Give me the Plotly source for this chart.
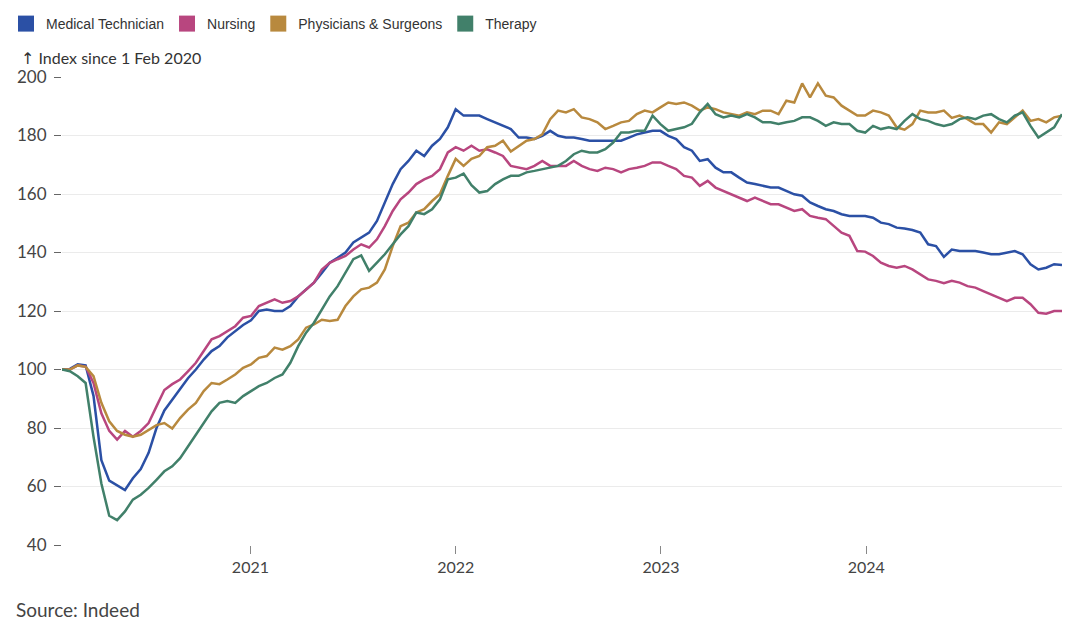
import pandas as pd
import plotly.graph_objects as go

# Biweekly observation dates (index, 1 Feb 2020 = 100)
dates = pd.date_range(start="2020-02-01", periods=128, freq="14D")

series_names = ["Medical Technician", "Nursing", "Physicians & Surgeons", "Therapy"]
series_colors = ["#2B50A5", "#B8467F", "#B8893E", "#41806A"]

medical_technician = [
    100.0, 100.2, 101.8, 101.4, 91.0, 69.0, 62.0, 60.5, 58.8, 62.8,
    66.0, 71.5, 80.0, 86.0, 89.7, 93.7, 97.0, 100.0, 103.4, 106.3,
    108.0, 111.0, 113.0, 115.2, 116.8, 120.0, 120.5, 120.0, 120.0, 121.7,
    125.0, 127.4, 129.7, 133.0, 136.5, 138.2, 140.0, 143.4, 145.0, 146.8,
    150.8, 157.0, 163.4, 168.5, 171.3, 174.8, 173.0, 176.5, 178.8, 182.8,
    189.0, 186.8, 186.8, 186.8, 185.6, 184.5, 183.3, 182.2, 179.3, 179.3,
    178.8, 179.9, 181.6, 179.9, 179.3, 179.3, 178.8, 178.2, 178.2, 178.2,
    178.2, 178.2, 179.3, 180.4, 181.0, 181.6, 181.6, 179.9, 178.8, 176.0,
    174.8, 171.3, 171.9, 169.0, 167.4, 167.4, 165.6, 163.9, 163.4, 162.8,
    162.2, 162.2, 161.0, 159.9, 159.4, 157.1, 155.9, 154.8, 154.2, 153.1,
    152.5, 152.5, 152.5, 151.9, 150.2, 149.7, 148.5, 148.2, 147.7, 146.8,
    142.8, 142.2, 138.5, 141.0, 140.5, 140.5, 140.5, 140.0, 139.4, 139.4,
    140.0, 140.5, 139.4, 136.0, 134.2, 134.8, 136.0, 135.7,
]

nursing = [
    100.0, 100.0, 101.4, 101.0, 95.4, 85.0, 79.0, 76.0, 79.0, 77.0,
    79.0, 81.7, 87.4, 93.0, 95.0, 96.6, 99.4, 102.3, 106.3, 110.3,
    111.4, 113.0, 114.8, 117.7, 118.3, 121.7, 122.8, 124.0, 122.8, 123.4,
    125.0, 127.4, 129.7, 134.2, 136.5, 137.7, 138.8, 141.0, 142.8, 141.7,
    144.5, 149.0, 154.2, 158.2, 160.5, 163.4, 165.0, 166.2, 168.5, 174.2,
    176.0, 174.8, 176.5, 174.8, 175.3, 174.2, 173.0, 169.6, 169.0, 168.5,
    169.6, 171.3, 169.6, 169.6, 169.6, 171.3, 169.6, 168.5, 167.9, 169.0,
    168.5, 167.4, 168.5, 169.0, 169.6, 170.8, 170.8, 169.6, 168.5, 166.2,
    165.6, 162.8, 164.5, 162.2, 161.0, 159.9, 158.8, 157.6, 158.8, 157.6,
    156.5, 156.5, 155.4, 154.2, 154.8, 152.5, 151.9, 151.4, 149.1, 146.8,
    145.7, 140.5, 140.3, 138.8, 136.5, 135.4, 134.8, 135.4, 134.2, 132.5,
    130.8, 130.3, 129.5, 130.3, 129.7, 128.5, 128.0, 126.8, 125.7, 124.5,
    123.4, 124.5, 124.5, 122.3, 119.4, 119.1, 120.0, 120.0,
]

physicians_surgeons = [
    100.0, 100.0, 101.4, 100.9, 97.7, 88.6, 82.3, 79.0, 77.7, 77.0,
    77.7, 79.5, 81.0, 81.7, 79.8, 83.4, 86.3, 88.6, 92.6, 95.4,
    95.0, 96.6, 98.3, 100.6, 101.7, 104.0, 104.6, 107.5, 106.8, 108.0,
    110.3, 114.3, 115.4, 117.0, 116.6, 117.0, 121.7, 125.0, 127.4, 128.0,
    129.7, 134.2, 142.2, 149.0, 150.2, 153.7, 154.8, 157.6, 160.0, 166.2,
    172.0, 169.6, 172.0, 173.0, 176.0, 176.5, 178.2, 174.5, 176.5, 178.2,
    178.8, 180.4, 185.6, 188.5, 187.9, 189.0, 186.2, 185.6, 184.5, 182.2,
    183.3, 184.5, 185.0, 187.3, 188.5, 187.9, 189.6, 191.3, 190.8, 191.3,
    190.2, 188.5, 189.6, 189.0, 187.9, 187.3, 186.8, 187.9, 187.3, 188.5,
    188.5, 187.3, 191.9, 191.3, 197.8, 193.0, 197.8, 193.6, 193.0, 190.2,
    188.5, 186.8, 186.8, 188.5, 187.9, 186.8, 182.8, 182.0, 183.9, 188.5,
    187.9, 187.9, 188.5, 186.0, 186.8, 185.6, 183.9, 183.9, 181.0, 184.5,
    183.9, 186.2, 188.5, 185.0, 185.6, 184.5, 186.2, 186.8,
]

therapy = [
    100.0, 99.4, 97.7, 95.4, 77.0, 61.0, 50.0, 48.5, 51.5, 55.5,
    57.2, 59.5, 62.3, 65.2, 66.9, 69.7, 73.7, 77.7, 81.7, 85.7,
    88.6, 89.2, 88.6, 90.9, 92.6, 94.3, 95.4, 97.1, 98.3, 102.3,
    108.0, 112.6, 116.0, 120.5, 125.0, 128.5, 133.0, 137.7, 139.0, 133.7,
    136.5, 139.4, 142.8, 146.2, 149.0, 153.7, 153.1, 154.8, 158.2, 165.0,
    165.6, 167.0, 163.0, 160.5, 161.0, 163.4, 165.0, 166.2, 166.2, 167.4,
    167.9, 168.5, 169.0, 169.6, 171.3, 173.6, 174.8, 174.2, 174.2, 175.3,
    177.6, 181.0, 181.0, 181.6, 181.6, 186.8, 183.9, 181.6, 182.2, 182.8,
    184.0, 187.9, 190.8, 187.3, 186.2, 186.8, 186.2, 187.3, 186.2, 184.5,
    184.5, 183.9, 184.5, 185.0, 186.2, 186.2, 185.0, 183.3, 184.5, 183.9,
    183.9, 181.6, 181.0, 183.3, 182.2, 182.8, 182.2, 185.0, 187.3, 185.6,
    185.0, 183.9, 183.3, 183.9, 185.6, 186.2, 185.6, 186.8, 187.3, 185.6,
    184.5, 186.8, 187.9, 183.3, 179.3, 181.0, 182.8, 187.3,
]

y_ticks = [40, 60, 80, 100, 120, 140, 160, 180, 200]
x_tick_dates = ["2021-01-01", "2022-01-01", "2023-01-01", "2024-01-01"]
x_tick_labels = ["2021", "2022", "2023", "2024"]

all_series = [medical_technician, nursing, physicians_surgeons, therapy]

fig = go.Figure()
for name, color, vals in zip(series_names, series_colors, all_series):
    fig.add_trace(go.Scatter(
        x=dates, y=vals, mode="lines", name=name,
        line=dict(color=color, width=2.5),
        legendgroup=name, showlegend=False,
    ))
# legend entries as colored squares
for name, color in zip(series_names, series_colors):
    fig.add_trace(go.Scatter(
        x=[None], y=[None], mode="markers", name=name,
        marker=dict(symbol="square", size=20, color=color),
        legendgroup=name, showlegend=True,
    ))

fig.update_layout(
    width=1080, height=629,
    margin=dict(l=54, r=26, t=69, b=92),
    paper_bgcolor="white", plot_bgcolor="white",
    font=dict(family="Lato, sans-serif", color="#333333"),
    showlegend=True,
    legend=dict(
        orientation="h", xref="container", yref="container",
        x=0.0, xanchor="left", y=1.0, yanchor="top",
        indentation=-2,
        font=dict(family="Liberation Sans, Arial, sans-serif", size=14, color="#333333"),
        itemclick=False, itemdoubleclick=False,
        bgcolor="rgba(0,0,0,0)",
    ),
    xaxis=dict(
        type="date", automargin=False,
        range=[dates[0], dates[-1]],
        tickvals=x_tick_dates, ticktext=x_tick_labels,
        ticks="outside", ticklen=8, tickcolor="#888888", tickwidth=1,
        showgrid=False, zeroline=False, showline=False,
        tickfont=dict(family="Lato, sans-serif", size=16, color="#444444"),
    ),
    yaxis=dict(
        range=[40, 200], automargin=False,
        tickvals=y_ticks,
        ticks="outside", ticklen=7, tickcolor="#666666", tickwidth=1,
        ticklabelstandoff=4,
        showgrid=True, gridcolor="#ebebeb", gridwidth=1,
        zeroline=False, showline=False,
        tickfont=dict(family="Lato, sans-serif", size=17, color="#444444"),
    ),
    annotations=[
        dict(text="<span style='font-family:DejaVu Sans'>\u2191</span> Index since 1 Feb 2020",
             xref="paper", yref="paper",
             x=-0.043, y=1.041, xanchor="left", yanchor="middle", showarrow=False,
             font=dict(family="Lato, sans-serif", size=16, color="#333333")),
        dict(text="Source: Indeed", xref="paper", yref="paper",
             x=-0.048, y=-0.1368, xanchor="left", yanchor="middle", showarrow=False,
             font=dict(family="Lato, sans-serif", size=19, color="#444444")),
    ],
)

fig.write_html("out.html")
